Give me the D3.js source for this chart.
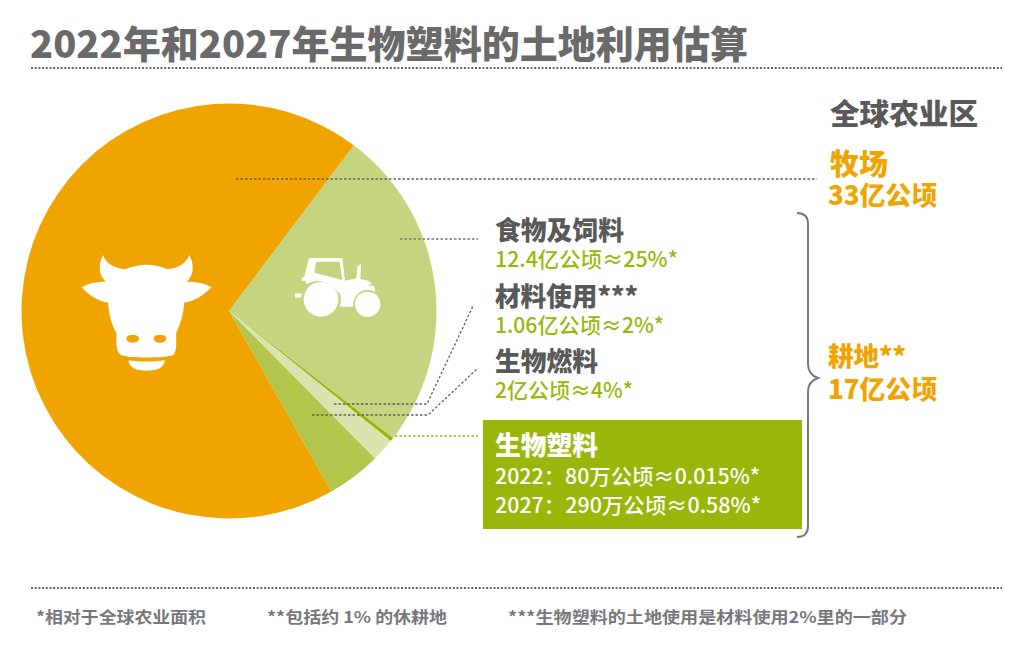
<!DOCTYPE html>
<html><head><meta charset="utf-8">
<script src="https://cdn.jsdelivr.net/npm/d3@7"></script>
<style>html,body{margin:0;padding:0;background:#fff}svg{display:block}text{font-family:"Noto Sans CJK SC",sans-serif}</style>
</head><body><div id="c"></div>
<script>
const sliceNames=["食物及饲料","生物塑料","材料使用","生物燃料","牧场"];
const sliceValues=[12.6,0.15,0.9,2.1,34.25];
const sliceColors=["#c5d47f","#9bb60a","#dbe4ae","#b1c64b","#f0a400"];
const title="2022年和2027年生物塑料的土地利用估算";
const footnotes=["*相对于全球农业面积","**包括约 1% 的休耕地","***生物塑料的土地使用是材料使用2%里的一部分"];
const W=1012,H=663,grey="#595959",orange="#f0a400",green="#9bb60a";
const svg=d3.select("#c").append("svg").attr("width",W).attr("height",H).attr("viewBox",`0 0 ${W} ${H}`);
const start=37*Math.PI/180;
const pie=d3.pie().sort(null).startAngle(start).endAngle(start+2*Math.PI);
const arc=d3.arc().innerRadius(0).outerRadius(207.5);
const g=svg.append("g").attr("transform","translate(229,311)");
g.selectAll("path").data(pie(sliceValues)).join("path").attr("d",arc).attr("fill",(d,i)=>sliceColors[i]);

function txt(s,x,y,size,fill,weight,len){
  const t=svg.append("text").attr("x",x).attr("y",y).attr("font-size",size).attr("fill",fill).attr("font-weight",weight).text(s);
  if(len)t.attr("textLength",len).attr("lengthAdjust","spacingAndGlyphs");
  return t;
}
function rule(pts,color,dash,w){
  svg.append("path").attr("d",d3.line()(pts)).attr("fill","none").attr("stroke",color).attr("stroke-width",w||1.2).attr("stroke-dasharray",dash);
}
// rules
rule([[31,68],[1002,68]],"#666666","2 1.7",2);
rule([[31,588],[1002,588]],"#666666","2 1.7",2);
// leaders
rule([[236,179],[817,179]],"#5f6062","2.5 2",1.3);
rule([[400,239],[478,239]],"#77787b","2.5 2",1.3);
rule([[334,404],[427,404],[473,306]],"#5f6062","2.5 2",1.3);
rule([[312,415],[428,415],[478,368]],"#5f6062","2.5 2",1.3);
rule([[395,436],[478,436]],green,"2.5 2",1.3);
// brace
svg.append("path").attr("fill","none").attr("stroke","#77787b").attr("stroke-width",2)
 .attr("d","M797,213 C804,213 808,217 808,224 L808,364 C808,372 812,376 818,378 C812,380 808,384 808,392 L808,526 C808,533 804,537 797,537");
// box
svg.append("rect").attr("x",483).attr("y",420).attr("width",319).attr("height",109).attr("fill",green);
// title
txt(title,30,58,38,"#6a6a6a",900,718);
// right
txt("全球农业区",830,125,29,grey,900,148);
txt("牧场",830,175,29,orange,900,58);
txt("33亿公顷",828,205,26,orange,900,109);
txt("耕地**",828,366,26,orange,900,78);
txt("17亿公顷",828,399,26,orange,900,109);
// labels
txt("食物及饲料",495,240,26,grey,900,129);
txt("12.4亿公顷≈25%*",495,267,21,green,500,183);
txt("材料使用***",495,306,26,grey,900,143);
txt("1.06亿公顷≈2%*",495,333,21,green,500,169);
txt("生物燃料",495,371,26,grey,900,103);
txt("2亿公顷≈4%*",495,398,21,green,500,138);
txt("生物塑料",495,455,26,"#fff",900,103);
txt("2022：80万公顷≈0.015%*",495,484,21,"#fff",500,265);
txt("2027：290万公顷≈0.58%*",495,513,21,"#fff",500,266);
// footnotes
txt(footnotes[0],36,623,16,"#77787b",700,170);
txt(footnotes[1],267,623,16,"#77787b",700,180);
txt(footnotes[2],508,623,16,"#77787b",700,399);
// cow icon
const cow=svg.append("g").attr("transform","translate(60,230) scale(0.3333)");
cow.append("path").attr("fill","#fff").attr("d","M130,75 C135,100 165,115 195,118 C240,100 280,100 322,118 C355,115 378,100 388,75 C405,105 400,140 380,155 C410,155 435,160 455,172 C430,195 405,215 372,218 C372,250 360,285 348,310 C350,340 350,365 340,375 C320,385 200,385 182,375 C168,365 168,335 170,310 C155,285 145,250 145,218 C115,215 85,195 65,172 C85,160 110,155 138,155 C118,140 112,105 130,75 Z");
cow.append("path").attr("fill","#fff").attr("d","M205,391 C240,396 280,396 315,391 C312,415 290,422 260,422 C230,422 208,415 205,391 Z");
cow.append("ellipse").attr("cx",218).attr("cy",326).attr("rx",19).attr("ry",12).attr("fill",orange);
cow.append("ellipse").attr("cx",300).attr("cy",326).attr("rx",19).attr("ry",12).attr("fill",orange);
// tractor icon
const tr=svg.append("g").attr("transform","translate(285,250) scale(0.3333)");
const field="#c5d47f";
tr.append("path").attr("fill","#fff").attr("fill-rule","evenodd").attr("d","M72,24 L172,24 L180,92 L215,85 L250,92 L268,108 L272,132 L228,135 L205,170 L165,170 L165,120 L130,100 L50,92 L50,84 L58,80 Z M93,35 L88,68 L172,90 L164,35 Z");
tr.append("path").attr("fill","#fff").attr("d","M214,88 L217,48 L228,42 L226,88 Z");
tr.append("rect").attr("x",30).attr("y",130).attr("width",28).attr("height",13).attr("fill","#fff");
tr.append("circle").attr("cx",108).attr("cy",148).attr("r",60).attr("fill",field);
tr.append("circle").attr("cx",108).attr("cy",148).attr("r",52).attr("fill","#fff");
tr.append("path").attr("fill","#fff").attr("d","M60,96 C90,72 140,78 168,120 L172,128 L160,128 C135,92 95,84 66,102 Z");
tr.append("circle").attr("cx",248).attr("cy",163).attr("r",43).attr("fill",field);
tr.append("circle").attr("cx",248).attr("cy",163).attr("r",38).attr("fill","#fff");
tr.append("rect").attr("x",252).attr("y",103).attr("width",16).attr("height",4).attr("fill",field);
</script></body></html>
